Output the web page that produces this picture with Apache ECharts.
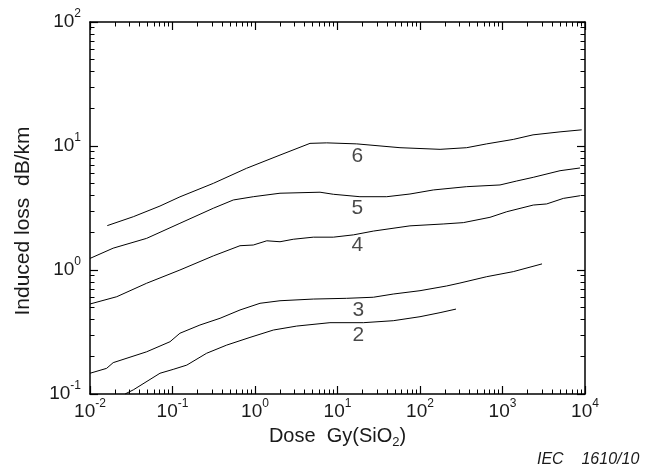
<!DOCTYPE html>
<html><head><meta charset="utf-8">
<script src="https://cdn.jsdelivr.net/npm/echarts@6/dist/echarts.min.js"></script>
<style>html,body{margin:0;padding:0;background:#fff}#c{width:646px;height:470px}</style>
</head><body><div id="c"></div>
<script>
// Curve data: dose (Gy SiO2) and induced loss (dB/km)
const dose6 = [0.0162,0.0335,0.0705,0.123,0.313,0.79,2.01,4.64,7.4,17.1,57.2,175,368,643,1352,2344,4980,9120];
const loss6 = [2.28,2.69,3.28,3.89,5.00,6.61,8.45,10.5,10.6,10.4,9.69,9.4,9.69,10.4,11.3,12.3,13.0,13.5];

const dose5 = [0.01,0.0191,0.0486,0.123,0.313,0.546,0.953,2.01,6.14,8.9,18.7,39.5,75.6,145,368,933,1486,2360,4980,8690];
const loss5 = [1.24,1.50,1.80,2.38,3.15,3.67,3.90,4.16,4.24,4.08,3.90,3.90,4.10,4.42,4.70,4.85,5.22,5.59,6.32,6.65];

const dose4 = [0.01,0.0211,0.0486,0.123,0.313,0.658,0.953,1.39,2.01,2.91,5.09,8.9,15.6,27.2,75.6,191,335,705,1124,2360,3430,5460,8690];
const loss4 = [0.532,0.609,0.782,1.0,1.30,1.57,1.59,1.72,1.69,1.77,1.84,1.84,1.92,2.06,2.27,2.35,2.41,2.66,2.95,3.34,3.41,3.78,3.97];

const dose3 = [0.01,0.0159,0.0191,0.0486,0.0933,0.123,0.215,0.377,0.658,1.15,2.01,5.09,12.9,27.2,47.4,100,210,305,643,1352,3013];
const loss3 = [0.147,0.161,0.179,0.219,0.264,0.309,0.360,0.408,0.476,0.539,0.565,0.583,0.591,0.603,0.640,0.681,0.743,0.785,0.883,0.970,1.12];

const dose2 = [0.0266,0.0335,0.0705,0.102,0.149,0.259,0.454,0.869,1.67,3.20,8.1,20.6,47.4,100,175,273];
const loss2 = [0.100,0.108,0.147,0.158,0.171,0.213,0.248,0.286,0.328,0.353,0.376,0.376,0.390,0.420,0.453,0.484];

// Curve labels
const labelNames = ['6','5','4','3','2'];
const labelDose = [17.4,17.4,17.4,17.9,17.9];
const labelLoss = [8.3,3.15,1.59,0.475,0.299];

// Axis ranges
const xMin = 0.01, xMax = 10000;
const yMin = 0.1, yMax = 100;

const xName = '{n|Dose  Gy(SiO}{sub|2}{n|)}';
const yName = 'Induced loss  dB/km';
const footnote = 'IEC    1610/10';

function zip(a, b) { return a.map((v, i) => [v, b[i]]); }

const textColor = '#1a1a1a';
const tickRich = {
  b: {fontSize: 19, fontFamily: 'Liberation Sans', color: textColor},
  s: {fontSize: 12, fontFamily: 'Liberation Sans', color: textColor, padding: [0, 0, 16, 0]}
};
function tickFmt(v) {
  const e = Math.round(Math.log10(v));
  return '{b|10}{s|' + e + '}';
}

function makeAxis(pos, min, max, split, showLabel, isX) {
  return {
    type: 'log', min: min, max: max, splitNumber: split,
    position: pos,
    axisLine: {show: true, lineStyle: {color: '#000', width: 1.5}},
    axisTick: {show: true, inside: true, length: 8, lineStyle: {color: '#000', width: 1.2}},
    minorTick: {show: true, splitNumber: 9, length: 4.5, lineStyle: {color: '#000', width: 1}},
    splitLine: {show: false},
    axisLabel: {show: showLabel, formatter: tickFmt, rich: tickRich, margin: isX ? 4 : 9}
  };
}

const xAxes = [makeAxis('bottom', xMin, xMax, 6, true, true), makeAxis('top', xMin, xMax, 6, false, true)];
xAxes[0].name = xName;
xAxes[0].nameLocation = 'middle';
xAxes[0].nameGap = 30;
xAxes[0].nameTextStyle = {
  rich: {
    n: {fontSize: 20, fontFamily: 'Liberation Sans', color: textColor},
    sub: {fontSize: 13, fontFamily: 'Liberation Sans', color: textColor, padding: [12, 0, 0, 0]}
  }
};
const yAxes = [makeAxis('left', yMin, yMax, 3, true, false), makeAxis('right', yMin, yMax, 3, false, false)];
yAxes[0].name = yName;
yAxes[0].nameLocation = 'middle';
yAxes[0].nameRotate = 90;
yAxes[0].nameGap = 56;
yAxes[0].nameTextStyle = {fontSize: 21, fontFamily: 'Liberation Sans', color: textColor, padding: [0, 26, 0, 0]};

const curves = [[dose6, loss6], [dose5, loss5], [dose4, loss4], [dose3, loss3], [dose2, loss2]];
const series = curves.map(c => ({
  type: 'line', xAxisIndex: 0, yAxisIndex: 0, data: zip(c[0], c[1]),
  showSymbol: false, symbol: 'none', smooth: false,
  lineStyle: {color: '#000', width: 1}, silent: true
}));
series.push({
  type: 'scatter', xAxisIndex: 0, yAxisIndex: 0, symbolSize: 0, silent: true,
  data: labelNames.map((n, i) => ({name: n, value: [labelDose[i], labelLoss[i]]})),
  label: {show: true, position: 'inside', formatter: p => p.name, fontSize: 21,
    fontFamily: 'Liberation Sans', color: textColor}
});

const chart = echarts.init(document.getElementById('c'), null, {renderer: 'canvas'});
chart.setOption({
  animation: false,
  backgroundColor: '#fff',
  grid: {left: 90, right: 61, top: 22, bottom: 76},
  xAxis: xAxes,
  yAxis: yAxes,
  series: series,
  graphic: [{
    type: 'text', left: 537, top: 452,
    style: {text: footnote, fontSize: 16, fontStyle: 'italic', fontFamily: 'Liberation Sans', fill: textColor}
  }]
});
</script></body></html>
